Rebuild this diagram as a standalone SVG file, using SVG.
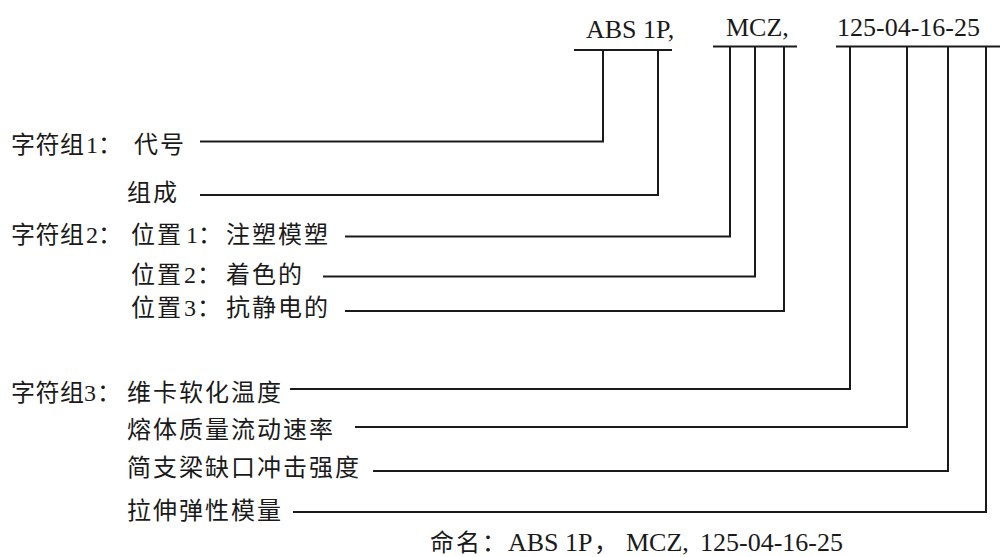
<svg xmlns="http://www.w3.org/2000/svg" width="1000" height="557" viewBox="0 0 1000 557">
<style>
.cjk{font-family:"Noto Sans CJK SC","Noto Sans CJK JP",sans-serif;font-size:24px;fill:#1a1a1a;letter-spacing:2px}
.lat{font-family:"Liberation Serif","Times New Roman",serif;font-size:24px;fill:#1a1a1a;letter-spacing:0}
.top{font-family:"Liberation Serif","Times New Roman",serif;font-size:26px;fill:#1a1a1a}
.cap{font-family:"Liberation Serif","Times New Roman",serif;font-size:26px;fill:#1a1a1a;letter-spacing:0}
.ln{fill:none;stroke:#1a1a1a;stroke-width:2}
</style>
<rect width="1000" height="557" fill="#fff"/>
<g id="code-abs"><text class="top" x="586" y="38">ABS 1P,</text></g>
<g id="code-mcz"><text class="top" x="726" y="36">MCZ,</text></g>
<g id="code-num"><text class="top" x="837" y="36">125-04-16-25</text></g>
<g id="connectors">
<path class="ln" d="M574 50H672M713 46.5H797M836 46.5H1000"/>
<path class="ln" d="M200 141.5H603V50"/>
<path class="ln" d="M200 195H658V50"/>
<path class="ln" d="M345 236.5H730V46.5"/>
<path class="ln" d="M323 276.5H755V46.5"/>
<path class="ln" d="M345 311H784V46.5"/>
<path class="ln" d="M290 389H850V46.5"/>
<path class="ln" d="M355 427H907V46.5"/>
<path class="ln" d="M373 471H948V46.5"/>
<path class="ln" d="M293 512H986V46.5"/>
</g>
<g id="label-1"><text class="cjk" y="153"><tspan x="11" style="letter-spacing:0.5px">字符组</tspan><tspan class="lat" x="86">1</tspan><tspan x="98">：</tspan><tspan x="134">代号</tspan></text></g>
<g id="label-2"><text class="cjk" y="201"><tspan x="127">组成</tspan></text></g>
<g id="label-3"><text class="cjk" y="243"><tspan x="11" style="letter-spacing:0.5px">字符组</tspan><tspan class="lat" x="86">2</tspan><tspan x="98">：</tspan><tspan x="131">位置</tspan><tspan class="lat" x="186">1</tspan><tspan x="198">：</tspan><tspan x="226">注塑模塑</tspan></text></g>
<g id="label-4"><text class="cjk" y="283"><tspan x="131">位置</tspan><tspan class="lat" x="184">2</tspan><tspan x="197">：</tspan><tspan x="226">着色的</tspan></text></g>
<g id="label-5"><text class="cjk" y="316"><tspan x="131">位置</tspan><tspan class="lat" x="184">3</tspan><tspan x="197">：</tspan><tspan x="226">抗静电的</tspan></text></g>
<g id="label-6"><text class="cjk" y="401"><tspan x="11" style="letter-spacing:0.5px">字符组</tspan><tspan class="lat" x="84">3</tspan><tspan x="97">：</tspan><tspan x="127">维卡软化温度</tspan></text></g>
<g id="label-7"><text class="cjk" y="438"><tspan x="127">熔体质量流动速率</tspan></text></g>
<g id="label-8"><text class="cjk" y="476"><tspan x="127">简支梁缺口冲击强度</tspan></text></g>
<g id="label-9"><text class="cjk" y="519"><tspan x="127">拉伸弹性模量</tspan></text></g>
<g id="caption"><text class="cjk" y="551"><tspan x="430">命名：</tspan><tspan class="cap" x="508">ABS 1P</tspan><tspan x="594">，</tspan><tspan class="cap" x="626">MCZ,</tspan><tspan class="cap" x="700">125-04-16-25</tspan></text></g>
</svg>
